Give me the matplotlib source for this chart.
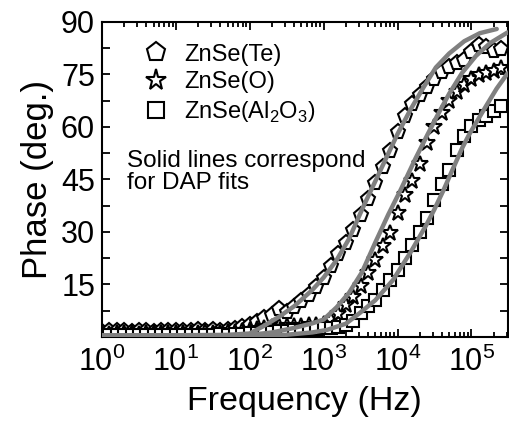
import matplotlib

matplotlib.use("Agg")
import matplotlib.pyplot as plt
from matplotlib.ticker import LogLocator, MultipleLocator, NullFormatter

# Measured phase, sampled 10 points per decade
FREQ = [1, 1.26, 1.58, 2.0, 2.51, 3.16, 3.98, 5.01, 6.31, 7.94,
        10, 12.6, 15.8, 20.0, 25.1, 31.6, 39.8, 50.1, 63.1, 79.4,
        100, 126, 158, 200, 251, 316, 398, 501, 631, 794,
        1000, 1260, 1580, 2000, 2510, 3160, 3980, 5010, 6310, 7940,
        1.0e4, 1.26e4, 1.58e4, 2.0e4, 2.51e4, 3.16e4, 3.98e4, 5.01e4, 6.31e4, 7.94e4,
        1.0e5, 1.26e5, 1.58e5, 2.0e5, 2.51e5]

PHASE_TE = [1.5, 1.7, 1.6, 1.7, 1.5, 1.8, 1.6, 1.5, 1.8, 1.6,
            1.7, 1.8, 1.6, 1.9, 1.7, 2.0, 1.8, 1.9, 2.3, 2.8,
            3.4, 4.3, 5.3, 6.2, 8.0, 7.2, 8.6, 10.2, 12.0, 14.4,
            16.8, 20.2, 23.6, 26.8, 30.5, 34.8, 39.5, 44.0, 48.5, 53.0,
            58.5, 63.0, 66.5, 69.0, 71.5, 73.8, 75.8, 77.2, 78.2, 79.2,
            81.5, 83.5, 82.8, 81.8, 82.3]

PHASE_O = [1.1, 0.9, 1.2, 1.0, 1.1, 0.9, 1.2, 1.0, 1.1, 1.2,
           1.0, 1.1, 1.2, 1.1, 1.3, 1.1, 1.2, 1.4, 1.5, 1.8,
           2.0, 2.3, 2.6, 2.8, 3.0, 3.1, 3.0, 3.2, 3.3, 3.4,
           3.6, 4.8, 6.5, 9.0, 11.5, 14.5, 18.2, 22.0, 26.0, 29.8,
           35.5, 40.5, 44.5, 49.5, 55.5, 60.0, 64.0, 67.5, 70.0, 72.0,
           73.6, 74.8, 75.4, 76.0, 76.9]

PHASE_AL = [0.6, 0.5, 0.7, 0.5, 0.6, 0.5, 0.7, 0.6, 0.6, 0.5,
            0.6, 0.7, 0.6, 0.6, 0.7, 0.6, 0.8, 0.7, 0.8, 0.9,
            1.0, 1.2, 1.4, 1.5, 1.7, 1.8, 2.0, 2.1, 2.2, 2.4,
            2.5, 2.6, 2.8, 3.4, 4.6, 6.8, 8.8, 10.5, 13.4, 16.3,
            19.1, 22.5, 26.2, 30.1, 34.0, 39.0, 43.6, 47.8, 53.5, 57.5,
            60.2, 62.0, 63.2, 64.6, 66.0]

# DAP fit curves
FIT_FREQ_TE = [1, 10, 50, 100, 150, 250, 400, 700, 1000, 1500, 2200, 3400,
               5000, 6800, 1.0e4, 1.5e4, 2.2e4, 3.3e4, 5.0e4, 8.0e4, 1.3e5, 2.2e5]
FIT_TE = [0.5, 0.5, 0.6, 1.0, 3.0, 5.8, 8.8, 13.4, 17.0, 22.0, 28.0, 37.0,
          44.5, 50.5, 58.0, 65.0, 71.0, 77.0, 81.0, 84.5, 86.8, 88.0]

FIT_FREQ_O = [1, 10, 100, 200, 400, 700, 1000, 1500, 2200, 3300, 5000, 7500,
              1.1e4, 1.75e4, 2.5e4, 3.5e4, 5.0e4, 7.5e4, 1.15e5, 1.8e5, 3.08e5]
FIT_O = [0.3, 0.3, 0.6, 1.3, 2.6, 3.9, 5.0, 8.5, 12.6, 18.5, 27.0, 35.0,
         42.0, 51.0, 57.5, 63.5, 69.5, 75.5, 80.3, 84.0, 87.0]

FIT_FREQ_AL = [1, 100, 300, 700, 1100, 2000, 3060, 5000, 8700, 1.53e4, 2.45e4,
               3.16e4, 4.2e4, 5.6e4, 7.5e4, 9.4e4, 1.3e5, 1.58e5, 2.2e5, 3.08e5]
FIT_AL = [0.2, 0.3, 0.6, 1.3, 2.0, 3.8, 6.8, 10.5, 16.3, 24.5, 32.0,
          36.5, 42.0, 48.0, 54.0, 58.0, 63.0, 66.0, 71.0, 75.3]

SAMPLES = ["ZnSe(Te)", "ZnSe(O)", r"ZnSe$\left(\mathrm{Al_2O_3}\right)$"]
MARKERS = ["p", "*", "s"]
MARKER_SIZES = [11, 12, 9]

FIT_COLOR = "#808080"


def setup_style():
    plt.rcParams["font.family"] = ["Liberation Sans", "DejaVu Sans"]
    plt.rcParams["mathtext.fontset"] = "custom"
    plt.rcParams["mathtext.rm"] = "Liberation Sans"
    plt.rcParams["mathtext.it"] = "Liberation Sans:italic"
    plt.rcParams["mathtext.default"] = "regular"
    plt.rcParams["axes.linewidth"] = 1.5


def plot_phase():
    fig = plt.figure(figsize=(5.09, 4.30), dpi=100)
    ax = fig.add_axes([0.2004, 0.2163, 0.7967, 0.7326])

    series = [PHASE_TE, PHASE_O, PHASE_AL]
    for label, marker, ms, phase in zip(SAMPLES, MARKERS, MARKER_SIZES, series):
        ax.plot(FREQ, phase, linestyle="none", marker=marker, markersize=ms,
                markerfacecolor="white", markeredgecolor="black",
                markeredgewidth=1.5, label=label, zorder=2)

    for fx, fy in [(FIT_FREQ_TE, FIT_TE), (FIT_FREQ_O, FIT_O),
                   (FIT_FREQ_AL, FIT_AL)]:
        ax.plot(fx, fy, color=FIT_COLOR, linewidth=3.2,
                solid_capstyle="round", solid_joinstyle="round", zorder=3)

    ax.set_xscale("log")
    ax.set_xlim(1, 3.08e5)
    ax.set_ylim(0, 90)

    ax.xaxis.set_major_locator(LogLocator(base=10, numticks=10))
    ax.xaxis.set_minor_locator(LogLocator(base=10, subs=range(2, 10), numticks=20))
    ax.xaxis.set_minor_formatter(NullFormatter())
    ax.yaxis.set_minor_locator(MultipleLocator(7.5))
    ax.set_yticks([15, 30, 45, 60, 75, 90])

    ax.tick_params(which="both", direction="in", top=True, right=True,
                   labelsize=22, width=1.3)
    ax.tick_params(which="major", length=6)
    ax.tick_params(axis="y", which="minor", length=6)
    ax.tick_params(axis="x", which="minor", length=3.5)
    ax.tick_params(axis="x", which="major", pad=7)
    ax.tick_params(axis="y", which="major", pad=5)

    ax.set_xlabel("Frequency (Hz)", fontsize=24.5, labelpad=6)
    ax.set_ylabel("Phase (deg.)", fontsize=25, labelpad=5)

    ax.legend(loc="upper left", bbox_to_anchor=(0.057, 0.984), frameon=False,
              fontsize=17, markerscale=1.3, handlelength=1.2,
              handletextpad=0.6, labelspacing=0.25, borderaxespad=0.3,
              borderpad=0.4)

    ax.text(0.062, 0.594, "Solid lines correspond\nfor DAP fits",
            transform=ax.transAxes, ha="left", va="top", fontsize=17.5,
            linespacing=1.0)

    fig.savefig("out.png", dpi=100)
    plt.close(fig)


def main():
    setup_style()
    plot_phase()


if __name__ == "__main__":
    main()
